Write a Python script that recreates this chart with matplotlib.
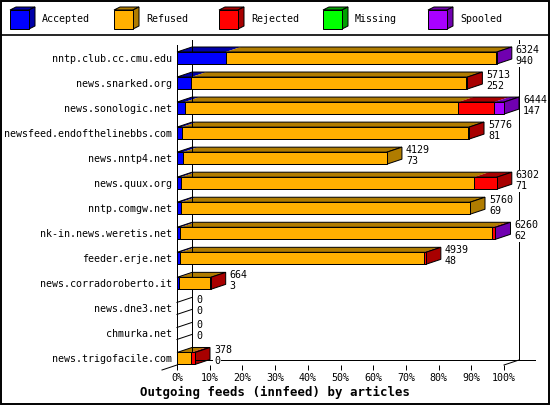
import matplotlib
matplotlib.use("Agg")
import matplotlib.pyplot as plt
from matplotlib.patches import Polygon, Rectangle

plt.rcParams['font.family'] = ['DejaVu Sans Mono']

hosts = ["nntp.club.cc.cmu.edu", "news.snarked.org", "news.sonologic.net",
         "newsfeed.endofthelinebbs.com", "news.nntp4.net", "news.quux.org",
         "nntp.comgw.net", "nk-in.news.weretis.net", "feeder.erje.net",
         "news.corradoroberto.it", "news.dne3.net", "chmurka.net",
         "news.trigofacile.com"]
offered = [6324, 5713, 6444, 5776, 4129, 6302, 5760, 6260, 4939, 664, 0, 0, 378]
accepted_n = [940, 252, 147, 81, 73, 71, 69, 62, 48, 3, 0, 0, 0]

# percentages of offered articles
accepted = [14.9, 4.4, 2.3, 1.4, 1.8, 1.1, 1.2, 1.0, 1.0, 0.5, 0, 0, 0]
refused = [82.6, 84.0, 83.7, 87.6, 62.4, 89.7, 88.4, 95.3, 74.5, 9.5, 0, 0, 4.3]
rejected = [0, 0.4, 11.0, 0.3, 0, 7.0, 0, 0.8, 0.6, 0.3, 0, 0, 1.2]
missing = [0, 0, 0, 0, 0, 0, 0, 0, 0, 0, 0, 0, 0]
spooled = [0.3, 0, 3.0, 0, 0, 0, 0, 0.3, 0, 0, 0, 0, 0]

series = ["Accepted", "Refused", "Rejected", "Missing", "Spooled"]
values = [accepted, refused, rejected, missing, spooled]
front = ["#0000ff", "#ffb000", "#ff0000", "#00ff00", "#a800ff"]
dark = ["#0000a8", "#b07c00", "#a80000", "#00a000", "#7000b0"]

W, H = 550, 405
X0, X100 = 177, 504
YTOP, YBOT = 45, 365
ROW0, STEP = 58, 25.04
LW = 0.72

fig = plt.figure(figsize=(5.5, 4.05), dpi=100)

# overlay in pixel units for frame, legend and title
ov = fig.add_axes([0, 0, 1, 1])
ov.set_xlim(0, W)
ov.set_ylim(H, 0)
ov.axis('off')
ov.add_patch(Rectangle((0.5, 0.5), W - 1.5, H - 1.5, fill=False, lw=1.4, ec='black'))
ov.plot([0, W], [35, 35], color='black', lw=1.2)
lx = [10, 114, 219, 323, 428]
for x, name, fc, dc in zip(lx, series, front, dark):
    ov.add_patch(Polygon([(x, 10), (x + 19, 10), (x + 25, 7), (x + 6, 7)], closed=True,
                         fc=dc, ec='black', lw=LW))
    ov.add_patch(Polygon([(x + 19, 10), (x + 25, 7), (x + 25, 26), (x + 19, 29)], closed=True,
                         fc=dc, ec='black', lw=LW))
    ov.add_patch(Rectangle((x, 10), 19, 19, fc=fc, ec='black', lw=LW))
    ov.text(x + 32, 19.5, name, fontsize=7.2, va='center', ha='left')
ov.text(275, 392, "Outgoing feeds (innfeed) by articles", fontsize=8.9,
        fontweight='bold', ha='center', va='center')

ax = fig.add_axes([X0 / W, 1 - YBOT / H, (X100 - X0) / W, (YBOT - YTOP) / H])
ax.patch.set_visible(False)
top = (YTOP - ROW0) / STEP
bot = (YBOT - ROW0) / STEP
ax.set_xlim(0, 100)
ax.set_ylim(bot, top)
for s in ax.spines.values():
    s.set_visible(False)

px = 100 / (X100 - X0)
py = 1 / STEP
DX = 15 * px
DY = -5 * py
HALF = 6 * py

ax.set_xticks(range(0, 101, 10))
ax.set_xticklabels([f"{v}%" for v in range(0, 101, 10)])
ax.tick_params(axis='x', length=5 * LW, width=LW, pad=2, labelsize=7.2)
ax.set_yticks(range(len(hosts)))
ax.set_yticklabels(hosts)
ax.tick_params(axis='y', length=0, pad=5 * LW, labelsize=7.2)

line = dict(color='black', lw=LW, clip_on=False)
ax.plot([0, 0], [top, bot], **line)
ax.plot([DX, DX], [top + DY, bot + DY], **line)
ax.plot([100 + DX, 100 + DX], [top + DY, bot + DY], **line)
ax.plot([DX, (535 - X0) * px], [bot + DY, bot + DY], **line)
ax.plot([100, 100 + DX], [bot, bot + DY], **line)
ax.plot([-DX, 0], [bot - DY, bot], **line)

for i in range(len(hosts)):
    yt, yb = i - HALF, i + HALF
    total = sum(v[i] for v in values)
    if total == 0:
        ax.plot([0, DX], [yt, yt + DY], **line)
        ax.plot([0, DX], [yb, yb + DY], **line)
        end = 0
    else:
        left = 0
        last = 0
        for k, v in enumerate(values):
            w = v[i]
            if w <= 0:
                continue
            ax.add_patch(Polygon([(left, yt), (left + w, yt), (left + w + DX, yt + DY),
                                  (left + DX, yt + DY)], closed=True, fc=dark[k],
                                 ec='none', clip_on=False))
            ax.barh(i, w, left=left, height=2 * HALF, color=front[k],
                    edgecolor='black', linewidth=LW, clip_on=False, zorder=3)
            left += w
            last = k
        end = left
        ax.add_patch(Polygon([(0, yt), (end, yt), (end + DX, yt + DY), (DX, yt + DY)],
                             closed=True, fill=False, ec='black', lw=LW, clip_on=False))
        ax.add_patch(Polygon([(end, yt), (end + DX, yt + DY), (end + DX, yb + DY), (end, yb)],
                             closed=True, fc=dark[last], ec='black', lw=LW, clip_on=False))
    tx = end + DX + 4 * px
    box = dict(fc='white', ec='none', pad=0.5)
    ax.text(tx, i - 8 * py, str(offered[i]), fontsize=7.2, ha='left', va='center',
            bbox=box, zorder=4)
    ax.text(tx, i + 3 * py, str(accepted_n[i]), fontsize=7.2, ha='left', va='center',
            bbox=box, zorder=4)

fig.savefig("out.png", dpi=100)
